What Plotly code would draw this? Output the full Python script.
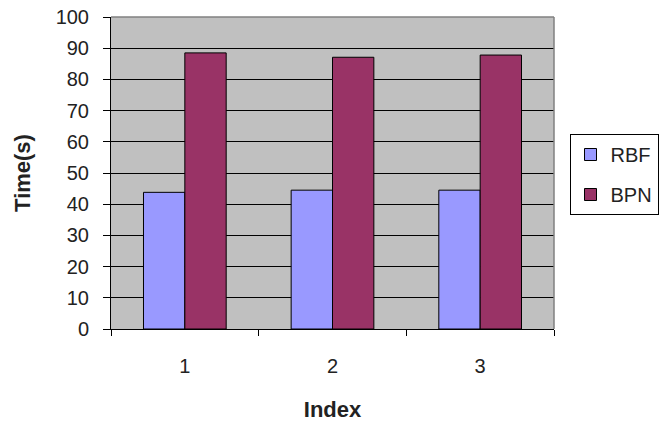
import plotly.graph_objects as go

# Data
index_labels = ["1", "2", "3"]
rbf_times = [43.8, 44.5, 44.5]
bpn_times = [88.5, 87.1, 87.8]

FONT = "Liberation Sans, Arial, sans-serif"
TEXT_COLOR = "#222222"

fig = go.Figure()
fig.add_trace(go.Bar(
    name="RBF", x=index_labels, y=rbf_times,
    marker=dict(color="#9999FF", line=dict(color="#000000", width=1)),
    legendgroup="rbf",
))
fig.add_trace(go.Bar(
    name="BPN", x=index_labels, y=bpn_times,
    marker=dict(color="#993366", line=dict(color="#000000", width=1)),
    legendgroup="bpn",
))

fig.update_layout(
    width=671, height=424,
    margin=dict(l=111, r=112, t=17, b=95),
    paper_bgcolor="white",
    plot_bgcolor="#C0C0C0",
    barmode="group",
    bargap=0.44,
    bargroupgap=0,
    font=dict(family=FONT, size=20, color=TEXT_COLOR),
    showlegend=True,
    legend=dict(
        x=1.035, y=0.625, xanchor="left", yanchor="top",
        bgcolor="white", bordercolor="#000000", borderwidth=1,
        font=dict(family=FONT, size=20, color=TEXT_COLOR),
        traceorder="grouped", tracegroupgap=11,
    ),
    xaxis=dict(
        type="category",
        automargin=False,
        tickson="boundaries",
        ticks="outside", ticklen=6, tickcolor="#000000", tickwidth=1,
        showline=True, linecolor="#000000", linewidth=1,
        showgrid=False,
        ticklabelstandoff=19,
        tickfont=dict(size=20),
        title=dict(text="<b>Index</b>", font=dict(family=FONT, size=22, color=TEXT_COLOR), standoff=25),
    ),
    yaxis=dict(
        range=[0, 100], dtick=10, tick0=0,
        automargin=False,
        ticks="outside", ticklen=7, tickcolor="#000000", tickwidth=1,
        showline=True, linecolor="#000000", linewidth=1,
        showgrid=True, gridcolor="#000000", gridwidth=1,
        zeroline=False,
        ticklabelstandoff=10,
        tickfont=dict(size=20),
        title=dict(text="<b>Time(s)</b>", font=dict(family=FONT, size=22, color=TEXT_COLOR), standoff=18),
    ),
)

# Gray frame on the top and right of the plotting area
fig.add_shape(type="line", xref="x domain", yref="y domain", x0=0, x1=1, y0=1, y1=1,
              line=dict(color="#808080", width=1.5), layer="above")
fig.add_shape(type="line", xref="x domain", yref="y domain", x0=1, x1=1, y0=0, y1=1,
              line=dict(color="#808080", width=1.5), layer="above")

fig.write_html("out.html")
